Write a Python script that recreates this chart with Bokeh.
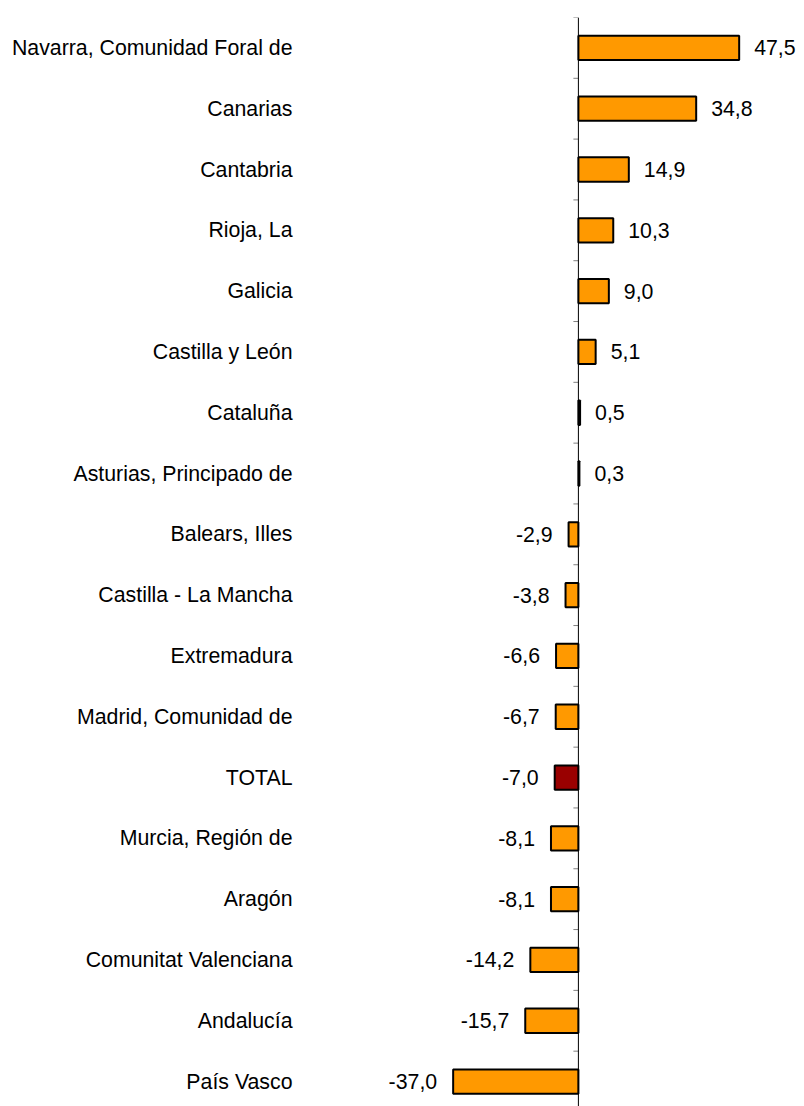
from bokeh.plotting import figure
from bokeh.models import ColumnDataSource, Range1d, FixedTicker, Span
from bokeh.core.properties import value
from bokeh.embed import file_html
from bokeh.resources import INLINE

regions = [
    "Navarra, Comunidad Foral de", "Canarias", "Cantabria", "Rioja, La",
    "Galicia", "Castilla y León", "Cataluña", "Asturias, Principado de",
    "Balears, Illes", "Castilla - La Mancha", "Extremadura",
    "Madrid, Comunidad de", "TOTAL", "Murcia, Región de", "Aragón",
    "Comunitat Valenciana", "Andalucía", "País Vasco",
]
values = [47.5, 34.8, 14.9, 10.3, 9.0, 5.1, 0.5, 0.3, -2.9, -3.8, -6.6,
          -6.7, -7.0, -8.1, -8.1, -14.2, -15.7, -37.0]

FONT = "Liberation Sans"
ORANGE = "#FF9900"
DARKRED = "#990000"

n = len(regions)
pos = list(range(n))
colors = [DARKRED if r == "TOTAL" else ORANGE for r in regions]
labels = [f"{v:.1f}".replace(".", ",") for v in values]

src = ColumnDataSource(dict(y=pos, v=values, c=colors, lab=labels))
pos_src = ColumnDataSource(dict(
    y=[p_ for p_, v in zip(pos, values) if v >= 0],
    v=[v for v in values if v >= 0],
    lab=[l for l, v in zip(labels, values) if v >= 0]))
neg_src = ColumnDataSource(dict(
    y=[p_ for p_, v in zip(pos, values) if v < 0],
    v=[v for v in values if v < 0],
    lab=[l for l, v in zip(labels, values) if v < 0]))

p = figure(width=804, height=1106, output_backend="svg", toolbar_location=None,
           x_range=Range1d(-82.1, 66.8), y_range=Range1d(n - 0.59, -0.5),
           x_axis_location=None, min_border_left=300, min_border_right=0,
           min_border_top=17, min_border_bottom=0)
p.outline_line_color = None
p.xgrid.visible = False
p.ygrid.visible = False
p.background_fill_color = "white"

ax = p.yaxis[0]
ax.ticker = FixedTicker(ticks=pos)
ax.major_label_overrides = {i: r for i, r in enumerate(regions)}
ax.axis_line_color = None
ax.major_tick_line_color = None
ax.minor_tick_line_color = None
ax.major_tick_out = 0
ax.major_tick_in = 0
ax.minor_tick_out = 0
ax.major_label_standoff = 8
ax.major_label_text_font = FONT
ax.major_label_text_font_size = "21.3px"
ax.major_label_text_color = "black"

# zero axis line
p.add_layout(Span(location=0, dimension="height", line_color="black", line_width=1))

# tick marks at category boundaries
bounds = [i - 0.5 for i in range(n + 1)]
p.ray(x=[0] * len(bounds), y=bounds, length=5, length_units="screen",
      angle=3.14159265, line_color="#808080", line_width=1)

p.hbar(y="y", left=0, right="v", height=0.4, fill_color="c",
       line_color="black", line_width=2, source=src)

p.text(x="v", y="y", text="lab", source=pos_src, x_offset=15,
       text_align="left", text_baseline="middle", text_font=value(FONT),
       text_font_size="21.3px", text_color="black")
p.text(x="v", y="y", text="lab", source=neg_src, x_offset=-16,
       text_align="right", text_baseline="middle", text_font=value(FONT),
       text_font_size="21.3px", text_color="black")

open("out.html", "w").write(file_html(p, INLINE))
